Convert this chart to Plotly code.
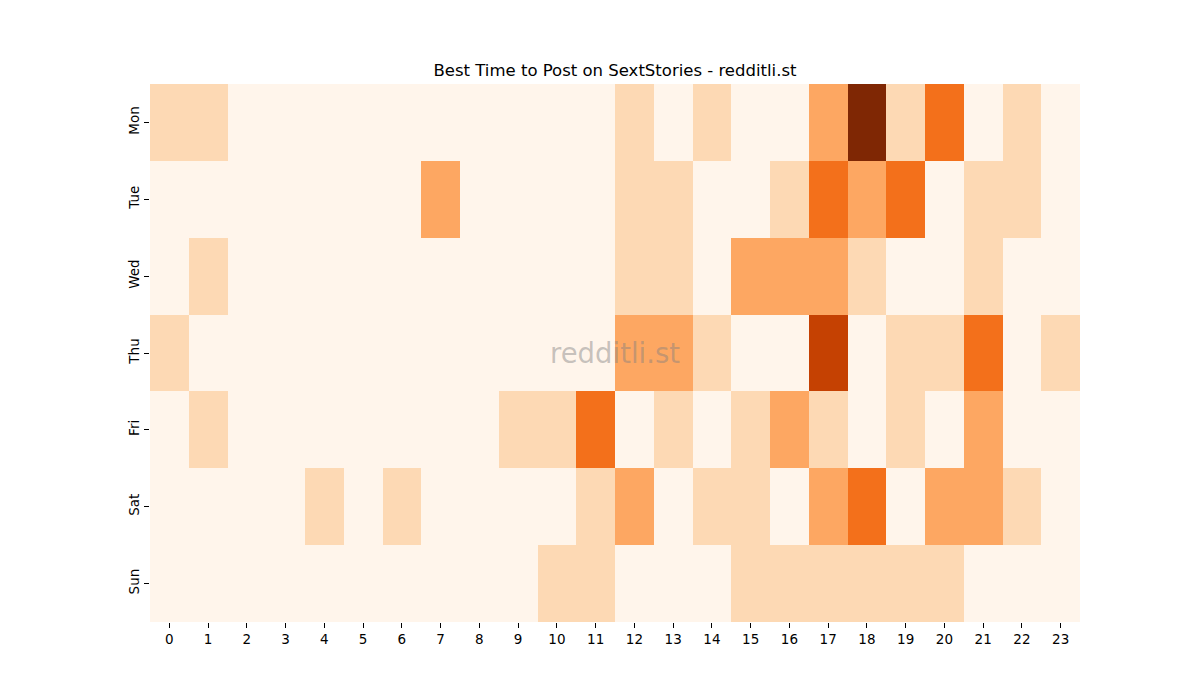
import plotly.graph_objects as go
import plotly.express as px

hours = [str(h) for h in range(24)]
days = ["Mon", "Tue", "Wed", "Thu", "Fri", "Sat", "Sun"]

mon = [1, 1, 0, 0, 0, 0, 0, 0, 0, 0, 0, 0, 1, 0, 1, 0, 0, 2, 5, 1, 3, 0, 1, 0]
tue = [0, 0, 0, 0, 0, 0, 0, 2, 0, 0, 0, 0, 1, 1, 0, 0, 1, 3, 2, 3, 0, 1, 1, 0]
wed = [0, 1, 0, 0, 0, 0, 0, 0, 0, 0, 0, 0, 1, 1, 0, 2, 2, 2, 1, 0, 0, 1, 0, 0]
thu = [1, 0, 0, 0, 0, 0, 0, 0, 0, 0, 0, 0, 2, 2, 1, 0, 0, 4, 0, 1, 1, 3, 0, 1]
fri = [0, 1, 0, 0, 0, 0, 0, 0, 0, 1, 1, 3, 0, 1, 0, 1, 2, 1, 0, 1, 0, 2, 0, 0]
sat = [0, 0, 0, 0, 1, 0, 1, 0, 0, 0, 0, 1, 2, 0, 1, 1, 0, 2, 3, 0, 2, 2, 1, 0]
sun = [0, 0, 0, 0, 0, 0, 0, 0, 0, 0, 1, 1, 0, 0, 0, 1, 1, 1, 1, 1, 1, 0, 0, 0]

z = [mon, tue, wed, thu, fri, sat, sun]

fig = go.Figure(
    go.Heatmap(
        z=z,
        x=hours,
        y=days,
        colorscale=px.colors.sequential.Oranges,
        showscale=False,
    )
)

# watermark in the middle of the grid
fig.add_annotation(
    text="redditli.st",
    x=0.5, y=0.5, xref="paper", yref="paper",
    showarrow=False,
    font=dict(size=27.5, color="rgba(128,128,128,0.45)", family="DejaVu Sans"),
)

fig.update_layout(
    width=1200,
    height=700,
    margin=dict(l=142, r=128, t=76, b=86),
    plot_bgcolor="white",
    paper_bgcolor="white",
    font=dict(family="DejaVu Sans", size=13.5, color="black"),
    title=dict(
        text="Best Time to Post on SextStories - redditli.st",
        x=(142 + 1072) / 2 / 1200,
        xanchor="center",
        y=1 - 62 / 700,
        yanchor="middle",
        yref="container",
        font=dict(size=16.5, color="black"),
    ),
    xaxis=dict(
        type="category",
        ticks="outside",
        ticklen=5,
        tickcolor="black",
        showgrid=False,
        zeroline=False,
        showline=False,
    ),
    yaxis=dict(
        type="category",
        autorange="reversed",
        ticks="outside",
        ticklen=5,
        tickcolor="black",
        tickangle=-90,
        showgrid=False,
        zeroline=False,
        showline=False,
    ),
)

fig.write_html("out.html")
